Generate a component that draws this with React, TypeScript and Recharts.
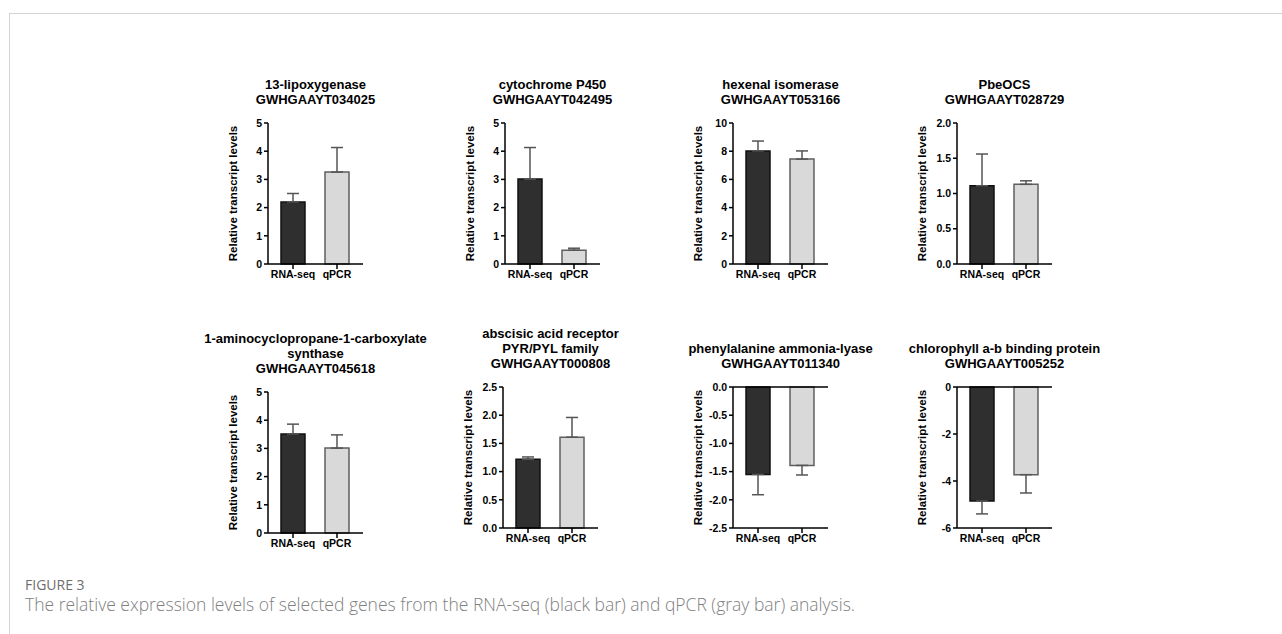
import React from "react";
import { BarChart, Bar, XAxis, YAxis, ErrorBar, Cell, ReferenceLine } from "recharts";

const categories = ["RNA-seq", "qPCR"];

// mean and SD, per gene
const lipoxygenaseMean = [2.2, 3.26];
const lipoxygenaseErr = [0.3, 0.87];
const p450Mean = [3.01, 0.49];
const p450Err = [1.12, 0.07];
const hexenalMean = [8.02, 7.44];
const hexenalErr = [0.7, 0.58];
const pbeocsMean = [1.11, 1.13];
const pbeocsErr = [0.45, 0.05];
const accMean = [3.51, 3.01];
const accErr = [0.35, 0.47];
const abaMean = [1.22, 1.61];
const abaErr = [0.04, 0.35];
const palMean = [-1.55, -1.39];
const palErr = [0.36, 0.17];
const cabMean = [-4.85, -3.73];
const cabErr = [0.55, 0.78];

const ticks0to5 = [0, 1, 2, 3, 4, 5];
const ticks0to10 = [0, 2, 4, 6, 8, 10];
const ticks0to2 = [0, 0.5, 1, 1.5, 2];
const ticks0to25 = [0, 0.5, 1, 1.5, 2, 2.5];
const ticksNeg25 = [-2.5, -2, -1.5, -1, -0.5, 0];
const ticksNeg6 = [-6, -4, -2, 0];

const FONT = "'Liberation Sans', Arial, Helvetica, sans-serif";
const PLOT_W = 95;
const PLOT_H = 141;
const Y_W = 60;
const TOP = 10;
const X_H = 30;
const RIGHT = 10;

type Panel = {
  title: string[];
  mean: number[];
  err: number[];
  ticks: number[];
  decimals: number;
  x: number; // y-axis line position
  y: number; // plot top
};

const panels: Panel[] = [
  { title: ["13-lipoxygenase", "GWHGAAYT034025"], mean: lipoxygenaseMean, err: lipoxygenaseErr, ticks: ticks0to5, decimals: 0, x: 268, y: 123 },
  { title: ["cytochrome P450", "GWHGAAYT042495"], mean: p450Mean, err: p450Err, ticks: ticks0to5, decimals: 0, x: 505, y: 123 },
  { title: ["hexenal isomerase", "GWHGAAYT053166"], mean: hexenalMean, err: hexenalErr, ticks: ticks0to10, decimals: 0, x: 733, y: 123 },
  { title: ["PbeOCS", "GWHGAAYT028729"], mean: pbeocsMean, err: pbeocsErr, ticks: ticks0to2, decimals: 1, x: 957, y: 123 },
  { title: ["1-aminocyclopropane-1-carboxylate", "synthase", "GWHGAAYT045618"], mean: accMean, err: accErr, ticks: ticks0to5, decimals: 0, x: 268, y: 392 },
  { title: ["abscisic acid receptor", "PYR/PYL family", "GWHGAAYT000808"], mean: abaMean, err: abaErr, ticks: ticks0to25, decimals: 1, x: 503, y: 387 },
  { title: ["phenylalanine ammonia-lyase", "GWHGAAYT011340"], mean: palMean, err: palErr, ticks: ticksNeg25, decimals: 1, x: 733, y: 387 },
  { title: ["chlorophyll a-b binding protein", "GWHGAAYT005252"], mean: cabMean, err: cabErr, ticks: ticksNeg6, decimals: 0, x: 957, y: 387 },
];

const tickStyle = { fontFamily: FONT, fontSize: 10.5, fontWeight: 700, fill: "#000" };

const GenePanel = ({ p }: { p: Panel }) => {
  const data = categories.map((name, i) => ({
    name,
    value: p.mean[i],
    err: p.mean[i] >= 0 ? [0, p.err[i]] : [p.err[i], 0],
  }));
  const lo = p.ticks[0];
  const hi = p.ticks[p.ticks.length - 1];
  const negative = hi <= 0;

  return (
    <>
      <div
        style={{
          position: "absolute",
          left: p.x + PLOT_W / 2 - 160,
          width: 320,
          top: p.y - 16 - p.title.length * 15,
          textAlign: "center",
          fontFamily: FONT,
          fontWeight: 700,
          fontSize: 13,
          lineHeight: "15px",
          color: "#000",
        }}
      >
        {p.title.map((t) => (
          <div key={t}>{t}</div>
        ))}
      </div>
      <div style={{ position: "absolute", left: p.x - Y_W, top: p.y - TOP }}>
        <BarChart
          width={Y_W + PLOT_W + RIGHT}
          height={TOP + PLOT_H + X_H}
          data={data}
          margin={{ top: TOP, right: RIGHT, bottom: 0, left: 0 }}
        >
          <XAxis
            dataKey="name"
            height={X_H}
            padding={{ left: 3, right: 4 }}
            tick={tickStyle}
            tickSize={5}
            tickMargin={2}
            axisLine={{ stroke: "#000", strokeWidth: 1.5 }}
            tickLine={{ stroke: "#000", strokeWidth: 1.5 }}
            interval={0}
          />
          <YAxis
            width={Y_W}
            domain={[lo, hi]}
            ticks={p.ticks}
            interval={0}
            tick={tickStyle}
            tickSize={4}
            tickMargin={2}
            tickFormatter={(v: number) => v.toFixed(p.decimals)}
            axisLine={{ stroke: "#000", strokeWidth: 1.5 }}
            tickLine={{ stroke: "#000", strokeWidth: 1.5 }}
            label={{
              value: "Relative transcript levels",
              angle: -90,
              position: "center",
              dx: -5,
              style: { fontFamily: FONT, fontSize: 11.5, fontWeight: 700, fill: "#000" },
            }}
          />
          {negative && <ReferenceLine y={0} stroke="#000" strokeWidth={1.5} />}
          <Bar dataKey="value" barSize={24} isAnimationActive={false} strokeWidth={1.5}>
            {data.map((d, i) => (
              <Cell key={d.name} fill={i === 0 ? "#2f2f2f" : "#d9d9d9"} stroke={i === 0 ? "#111" : "#5f5f5f"} />
            ))}
            <ErrorBar dataKey="err" width={6} stroke="#555" strokeWidth={1.5} isAnimationActive={false} />
          </Bar>
        </BarChart>
      </div>
    </>
  );
};

export default function App() {
  return (
    <div
      style={{
        position: "absolute",
        left: 0,
        top: 0,
        width: 1282,
        height: 634,
        background: "#fff",
        overflow: "hidden",
      }}
    >
      <div
        style={{
          position: "absolute",
          left: 9,
          top: 12.5,
          width: 1290,
          height: 640,
          borderTop: "1.5px solid #d3d3d3",
          borderLeft: "1.5px solid #d3d3d3",
        }}
      />
      {panels.map((p) => (
        <GenePanel key={p.title[p.title.length - 1]} p={p} />
      ))}
      <div
        style={{
          position: "absolute",
          left: 25,
          top: 575,
          fontFamily: "'Open Sans', sans-serif",
          fontSize: 14,
          color: "#6e6e6e",
        }}
      >
        FIGURE 3
      </div>
      <div
        style={{
          position: "absolute",
          left: 25,
          top: 592,
          fontFamily: "'Open Sans', sans-serif",
          fontSize: 17.5,
          fontWeight: 300,
          color: "#808080",
        }}
      >
        The relative expression levels of selected genes from the RNA-seq (black bar) and qPCR (gray bar) analysis.
      </div>
    </div>
  );
}
